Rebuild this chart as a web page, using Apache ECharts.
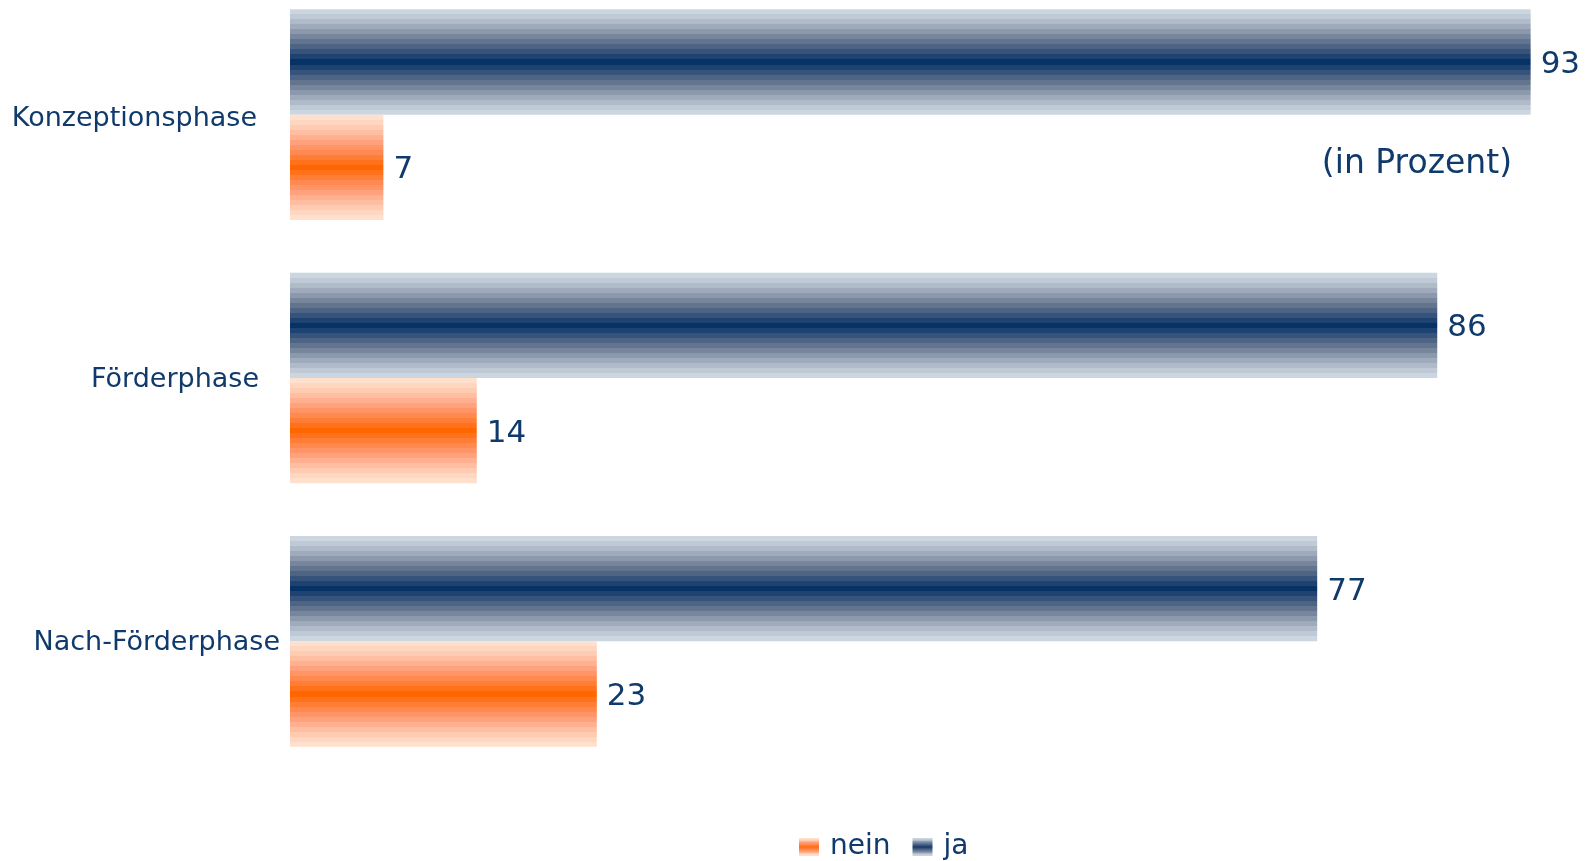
<!DOCTYPE html>
<html>
<head>
<meta charset="utf-8">
<script src="https://cdn.jsdelivr.net/npm/echarts@6/dist/echarts.min.js"></script>
<style>
html,body{margin:0;padding:0;background:#fff;}
#c{width:1586px;height:861px;}
</style>
</head>
<body>
<div id="c"></div>
<script>
const categories = ['Konzeptionsphase', 'Förderphase', 'Nach-Förderphase'];
const jaValues = [93, 86, 77];
const neinValues = [7, 14, 23];
const seriesNames = ['ja', 'nein'];
const legendOrder = ['nein', 'ja'];
const unitNote = '(in Prozent)';

const TEXT = '#0f3a6b';
const FONT = 'DejaVu Sans';

function mix(a, b, t) {
  return a.map((v, i) => Math.round(v + (b[i] - v) * t));
}
function band(light, mid, dark, t) {
  return t < 0.5 ? mix(light, mid, t / 0.5) : mix(mid, dark, (t - 0.5) / 0.5);
}
function stepped(light, mid, dark) {
  const B = 21, stops = [];
  const h = (B - 1) / 2;
  for (let i = 0; i < B; i++) {
    const t = Math.pow(1 - Math.abs(i - h) / h, 1.2);
    const c = band(light, mid, dark, t);
    const col = 'rgb(' + c.join(',') + ')';
    stops.push({ offset: i / B, color: col });
    stops.push({ offset: (i + 1) / B, color: col });
  }
  return new echarts.graphic.LinearGradient(0, 0, 0, 1, stops);
}
const navyGrad = stepped([204, 214, 225], [108, 122, 147], [6, 50, 102]);
const orangeGrad = stepped([255, 224, 204], [255, 152, 112], [255, 102, 0]);

const chart = echarts.init(document.getElementById('c'), null, { renderer: 'canvas' });

// label layout tweaks per category index: [top padding, right padding]
const labelPad = [[9, 23], [4, 21], [4, 0]];
const rich = {};
labelPad.forEach((p, i) => {
  rich['c' + i] = { fontSize: 27, color: TEXT, fontFamily: FONT, padding: [p[0], p[1], 0, 0] };
});

const valueLabel = { show: true, position: 'right', distance: 10, offset: [0, 3], fontSize: 31, color: TEXT, fontFamily: FONT };

const option = {
  backgroundColor: '#ffffff',
  animation: false,
  textStyle: { fontFamily: FONT },
  grid: { left: 290, right: 2, top: -17, bottom: 88, outerBoundsMode: 'none' },
  xAxis: {
    type: 'value', min: 0, max: 97, show: false
  },
  yAxis: {
    type: 'category',
    inverse: true,
    data: categories,
    axisLine: { show: false },
    axisTick: { show: false },
    splitLine: { show: false },
    axisLabel: {
      margin: 10, fontSize: 27, color: TEXT, fontFamily: FONT,
      formatter: (v, i) => '{c' + i + '|' + v + '}',
      rich: rich
    }
  },
  legend: {
    data: legendOrder,
    left: 799,
    top: 833,
    padding: 0,
    icon: 'rect',
    itemWidth: 20,
    itemHeight: 18,
    itemGap: 22,
    textStyle: { fontSize: 28, color: TEXT, fontFamily: FONT, padding: [0, 0, 0, 6] }
  },
  series: [
    {
      name: seriesNames[0],
      type: 'bar',
      data: jaValues,
      barCategoryGap: '20%',
      barGap: '0%',
      itemStyle: { color: navyGrad },
      label: valueLabel
    },
    {
      name: seriesNames[1],
      type: 'bar',
      data: neinValues,
      barCategoryGap: '20%',
      barGap: '0%',
      itemStyle: { color: orangeGrad },
      label: valueLabel
    }
  ],
  graphic: [
    {
      type: 'text',
      right: 74,
      top: 148,
      style: { text: unitNote, fontSize: 33, fill: TEXT, fontFamily: FONT }
    }
  ]
};
chart.setOption(option);
</script>
</body>
</html>
